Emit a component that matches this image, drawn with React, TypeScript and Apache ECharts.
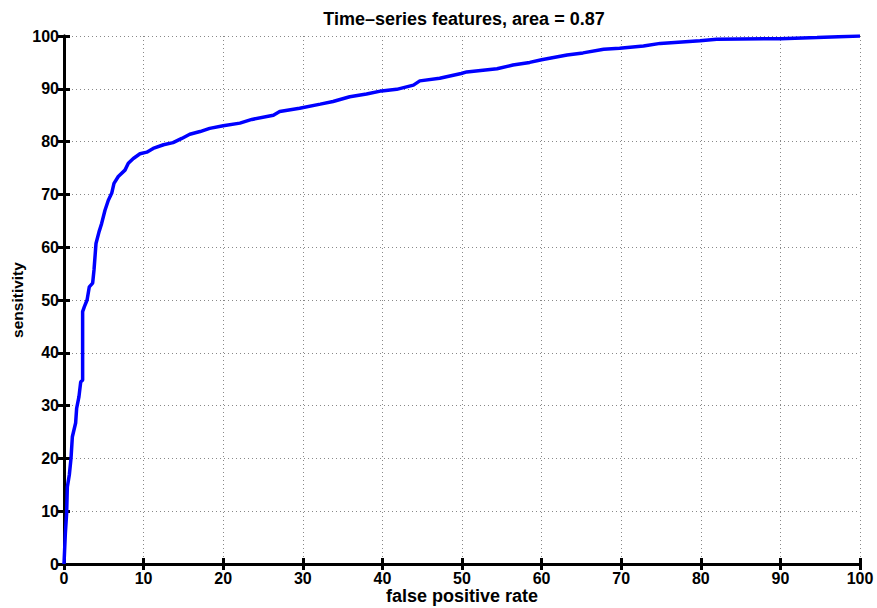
import React, { useEffect, useRef } from "react";
import * as echarts from "echarts";

const fpr = [0, 0.17, 0.33, 0.42, 0.67, 0.88, 1.05, 1.46, 1.59, 1.88, 2.1, 2.34, 2.34, 2.55, 2.9, 3.18, 3.6, 3.77, 4.02, 4.4, 4.73, 5.15, 5.57, 5.99, 6.28, 6.82, 7.66, 8.08, 8.71, 9.55, 10.4, 11.2, 12.5, 13.7, 14.8, 15.8, 17.1, 18.3, 20, 22.1, 23.6, 26.3, 27.1, 29.6, 32.2, 33.8, 35.9, 38.0, 39.9, 41.8, 43.9, 44.7, 47.2, 49.9, 50.6, 54.4, 56.4, 58.5, 60.0, 63.2, 65.2, 67.8, 69.8, 72.8, 74.9, 79.9, 82.0, 90, 94.6, 100];
const sensitivity = [0, 5.8, 9.6, 14.6, 16.9, 20, 24.1, 26.7, 29.5, 31.7, 34.5, 34.8, 47.8, 48.7, 50, 52.5, 53.2, 55.7, 60.7, 62.9, 64.5, 67, 68.9, 70.2, 72.1, 73.4, 74.6, 75.9, 76.8, 77.7, 78, 78.7, 79.4, 79.8, 80.6, 81.4, 81.9, 82.5, 83, 83.5, 84.2, 85.0, 85.7, 86.3, 87.1, 87.6, 88.5, 89.0, 89.6, 89.9, 90.7, 91.5, 92.0, 92.9, 93.2, 93.8, 94.5, 95.0, 95.5, 96.4, 96.8, 97.5, 97.7, 98.1, 98.6, 99.1, 99.4, 99.5, 99.7, 100];

const titleText = "Time\u2013series features, area = 0.87";
const xName = "false positive rate";
const yName = "sensitivity";

const FONT = "'Liberation Sans', Arial, sans-serif";

export default function App() {
  const ref = useRef<HTMLDivElement>(null);
  useEffect(() => {
    document.body.style.margin = "0";
    const chart = echarts.init(ref.current!, null, { renderer: "svg" });
    const data = fpr.map((x, i) => [x, sensitivity[i]]);
    const labelStyle = { color: "#000", fontWeight: "bold" as const, fontSize: 16, fontFamily: FONT };
    const axisLine = { show: true, lineStyle: { color: "#000", width: 3 } };
    const axisTick = { show: true, inside: true, length: 6, lineStyle: { color: "#000", width: 3 } };
    const splitLine = { show: true, lineStyle: { color: "#888", type: [1, 3] as any, width: 1 } };
    chart.setOption({
      animation: false,
      backgroundColor: "#fff",
      title: {
        text: titleText,
        left: 459,
        top: 5,
        textAlign: "center",
        textStyle: { color: "#000", fontWeight: "bold", fontSize: 18, fontFamily: FONT },
      },
      grid: { left: 64, right: 17, top: 36, bottom: 44, containLabel: false, outerBoundsMode: "none" },
      xAxis: [
        {
          type: "value", min: 0, max: 100, interval: 10, position: "bottom",
          name: xName, nameLocation: "middle", nameGap: 23, nameMoveOverlap: false,
          nameTextStyle: { ...labelStyle, fontSize: 18 },
          axisLine, axisTick, splitLine,
          axisLabel: { ...labelStyle, margin: 6 },
        },
        {
          type: "value", min: 0, max: 100, interval: 10, position: "top",
          axisLine, axisTick, splitLine: { show: false }, axisLabel: { show: false },
        },
      ],
      yAxis: [
        {
          type: "value", min: 0, max: 100, interval: 10, position: "left",
          name: yName, nameLocation: "middle", nameGap: 39, nameRotate: 90, nameMoveOverlap: false,
          nameTextStyle: { ...labelStyle, fontSize: 15.5 },
          axisLine, axisTick, splitLine,
          axisLabel: { ...labelStyle, margin: 5 },
        },
        {
          type: "value", min: 0, max: 100, interval: 10, position: "right",
          axisLine, axisTick, splitLine: { show: false }, axisLabel: { show: false },
        },
      ],
      series: [
        {
          type: "line",
          data,
          showSymbol: false,
          symbol: "none",
          lineStyle: { color: "#0000ff", width: 3.5 },
          z: 3,
        },
      ],
    });
    return () => chart.dispose();
  }, []);
  return <div ref={ref} style={{ width: 877, height: 608 }} />;
}
